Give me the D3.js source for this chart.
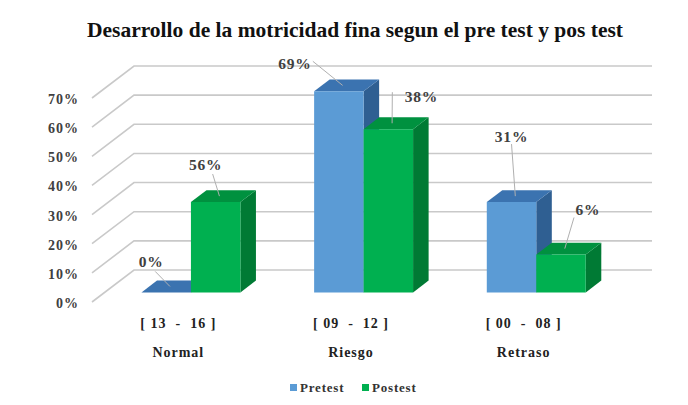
<!DOCTYPE html>
<html>
<head>
<meta charset="utf-8">
<script src="https://cdn.jsdelivr.net/npm/d3@7"></script>
<style>
  body { margin: 0; background: #fff; }
</style>
</head>
<body>
<script>
const categories = ["Normal", "Riesgo", "Retraso"];
const ranges = ["[ 13  -  16 ]", "[ 09  -  12 ]", "[ 00  -  08 ]"];
const series = ["Pretest", "Postest"];
const pretest = [0, 69, 31];
const postest = [31, 56, 13];
const pretestLabels = ["0%", "69%", "31%"];
const postestLabels = ["56%", "38%", "6%"];
const yTicks = [0, 10, 20, 30, 40, 50, 60, 70];

const W = 688, H = 405;
const colors = {
  Pretest: { front: "#5b9bd5", top: "#3b73b0", side: "#2f5f92" },
  Postest: { front: "#00b050", top: "#00913f", side: "#007a34" }
};
// depth of the wall and of the bars (oblique projection)
const depth = { dx: 42, dy: -32 };
const zF = 0.3, zB = 0.67;

// label placement relative to the bar's front top centre, and leader start offsets
const labelPos = {
  Pretest: [{ dx: -15, dy: -30, lx: 4, ly: 9 }, { dx: -44, dy: -27, lx: 18, ly: -3 }, { dx: 0, dy: -65, lx: 0, ly: 7 }],
  Postest: [{ dx: -10, dy: -37, lx: 7, ly: 9 }, { dx: 33, dy: -32, lx: -29, ly: -5 }, { dx: 27, dy: -45, lx: -14, ly: 8 }]
};

const svg = d3.select("body").append("svg").attr("width", W).attr("height", H)
  .attr("font-family", "'Liberation Serif', 'DejaVu Serif', serif")
  .attr("font-weight", "bold");

svg.append("text")
  .attr("x", 355).attr("y", 37)
  .attr("text-anchor", "middle")
  .attr("font-size", 21.5)
  .attr("fill", "#111")
  .text("Desarrollo de la motricidad fina segun el pre test y pos test");

const x0 = d3.scaleBand().domain(categories).range([92, 610]);
const x1 = d3.scaleBand().domain(series).range([0, x0.bandwidth()]).paddingOuter(0.745);
const y = d3.scaleLinear().domain([0, 70]).range([302, 98]);

const proj = (px, v, z) => [px + depth.dx * z, y(v) + depth.dy * z];

// gridlines: diagonal on the side wall, horizontal on the back wall
const grid = svg.append("g").attr("stroke", "#c9c9c9").attr("stroke-width", 1.6).attr("fill", "none");
yTicks.forEach(t => {
  const a = proj(92, t, 0), b = proj(92, t, 1), c = proj(610, t, 1);
  grid.append("polyline").attr("points", [a, b, c].map(p => p.join(",")).join(" "));
});

svg.append("g").selectAll("text").data(yTicks).join("text")
  .attr("x", 79).attr("y", d => y(d) + 6)
  .attr("text-anchor", "end")
  .attr("font-size", 14)
  .attr("letter-spacing", 1)
  .attr("fill", "#404040")
  .text(d => d + "%");

// bars
const bars = [];
categories.forEach((c, i) => {
  series.forEach((s, j) => {
    const v = s === "Pretest" ? pretest[i] : postest[i];
    const lab = s === "Pretest" ? pretestLabels[i] : postestLabels[i];
    bars.push({ c, s, v, lab, i, xl: x0(c) + x1(s), xr: x0(c) + x1(s) + x1.bandwidth() });
  });
});

const pts = arr => arr.map(p => p.join(",")).join(" ");
const gb = svg.append("g");
bars.forEach(b => {
  const col = colors[b.s];
  if (b.v > 0) {
    gb.append("polygon").attr("fill", col.side)
      .attr("points", pts([proj(b.xr, 0, zF), proj(b.xr, 0, zB), proj(b.xr, b.v, zB), proj(b.xr, b.v, zF)]));
  }
  gb.append("polygon").attr("fill", col.top)
    .attr("points", pts([proj(b.xl, b.v, zF), proj(b.xr, b.v, zF), proj(b.xr, b.v, zB), proj(b.xl, b.v, zB)]));
  if (b.v > 0) {
    gb.append("polygon").attr("fill", col.front)
      .attr("points", pts([proj(b.xl, 0, zF), proj(b.xr, 0, zF), proj(b.xr, b.v, zF), proj(b.xl, b.v, zF)]));
  }
});

// data labels with leader lines
const gl = svg.append("g");
bars.forEach(b => {
  const lp = labelPos[b.s][b.i];
  const top = proj((b.xl + b.xr) / 2, b.v, zF);
  const lx = top[0] + lp.dx, ly = top[1] + lp.dy;
  const end = proj((b.xl + b.xr) / 2, b.v, (zF + zB) / 2);
  gl.append("line")
    .attr("x1", lx + lp.lx).attr("y1", ly + lp.ly)
    .attr("x2", end[0] - 4).attr("y2", end[1])
    .attr("stroke", "#b0b0b0").attr("stroke-width", 1);
  gl.append("text")
    .attr("x", lx).attr("y", ly + 5)
    .attr("text-anchor", "middle")
    .attr("font-size", 15.5)
    .attr("letter-spacing", 0.8)
    .attr("fill", "#404040")
    .text(b.lab);
});

// category axis
const ga = svg.append("g").attr("text-anchor", "middle").attr("fill", "#222")
  .attr("font-size", 14).attr("letter-spacing", 1);
categories.forEach((c, i) => {
  const cx = x0(c) + x0.bandwidth() / 2;
  ga.append("text").attr("x", cx).attr("y", 328).style("white-space", "pre").text(ranges[i]);
  ga.append("text").attr("x", cx).attr("y", 357).text(c);
});

// legend
const lg = svg.append("g").attr("transform", "translate(290,388)");
const items = [{ s: "Pretest", x: 0 }, { s: "Postest", x: 72 }];
items.forEach(it => {
  lg.append("rect").attr("x", it.x).attr("y", -4).attr("width", 7).attr("height", 7).attr("fill", colors[it.s].front);
  lg.append("text").attr("x", it.x + 10).attr("y", 4).attr("font-size", 13).attr("letter-spacing", 0.8)
    .attr("fill", "#333").text(it.s);
});
</script>
</body>
</html>
